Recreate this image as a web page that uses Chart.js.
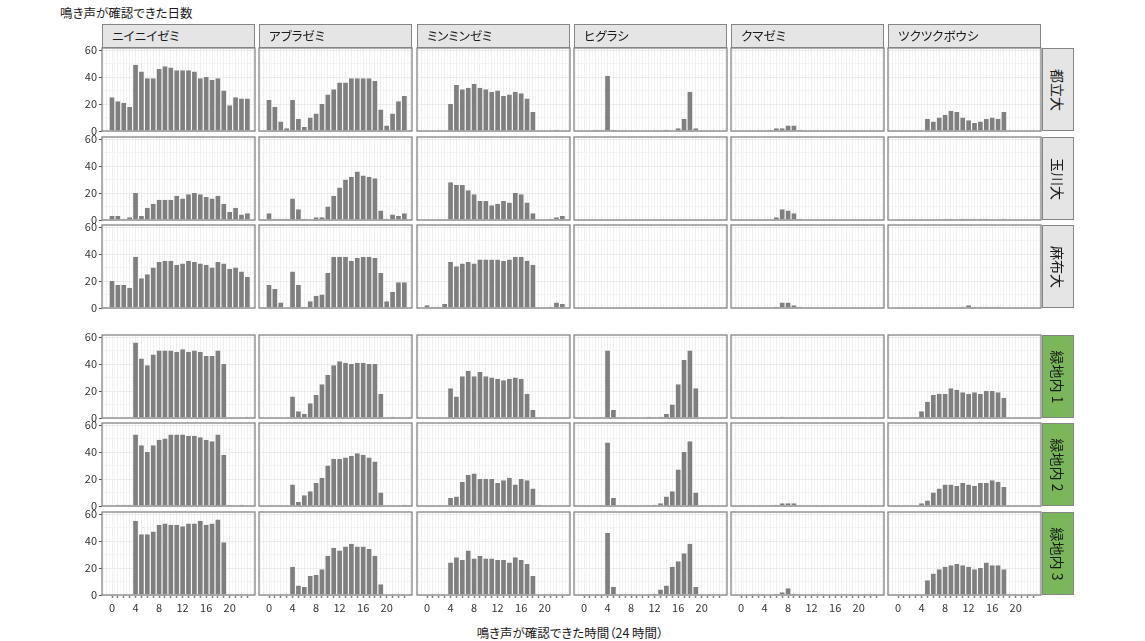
<!DOCTYPE html>
<html>
<head>
<meta charset="utf-8">
<script src="https://cdn.jsdelivr.net/npm/chart.js@4.4.1/dist/chart.umd.min.js"></script>
<style>
  html, body { margin: 0; padding: 0; }
  body { width: 1145px; height: 641px; background: #ffffff; position: relative; overflow: hidden;
         font-family: "Noto Sans CJK JP", "Noto Sans", sans-serif; color: #1a1a1a; }
  .panel { position: absolute; }
  .txt { position: absolute; white-space: nowrap; font-feature-settings: "palt"; }
  .strip-top { position: absolute; box-sizing: border-box; border: 1px solid #858585; background: #e5e5e5;
               font-size: 12.5px; line-height: 22px; padding-left: 9px; font-feature-settings: "palt"; white-space: nowrap; }
  .strip-right { position: absolute; box-sizing: border-box; border: 1px solid #858585; }
  .strip-right span { position: absolute; left: 50%; top: 50%; transform: translate(-50%, -50%) rotate(90deg);
                      font-size: 14px; white-space: nowrap; font-feature-settings: "palt"; }
</style>
</head>
<body>
<div class="txt" id="ytitle" style="left:60px; top:3px; font-size:12.5px;">鳴き声が確認できた日数</div>
<div class="txt" id="xtitle" style="left:570px; top:623px; font-size:12.5px; transform:translateX(-50%);">鳴き声が確認できた時間（24 時間）</div>
<script>
// ---------- data ----------
const hours = [0,1,2,3,4,5,6,7,8,9,10,11,12,13,14,15,16,17,18,19,20,21,22,23];
const speciesNames = ["ニイニイゼミ","アブラゼミ","ミンミンゼミ","ヒグラシ","クマゼミ","ツクツクボウシ"];
const siteNames = ["都立大","玉川大","麻布大","緑地内 1","緑地内 2","緑地内 3"];
const xTickLabels = [0,4,8,12,16,20];
const yTickLabels = [0,20,40,60];

// each site: one array per species (order = speciesNames), values per hour 0..23
const toritsu = [
  [25,22,21,18,49,44,39,39,46,48,47,45,45,45,44,39,40,38,39,30,19,25,24,24],
  [23,18,7,2,23,9,3,10,13,20,27,31,36,36,39,39,39,39,37,16,4,13,22,26],
  [0,0,0,0,20,34,31,32,35,32,31,29,30,26,27,29,28,24,14,0,0,0,1,0],
  [0,0,1,1,41,1,0,0,0,0,0,0,0,0,1,0,2,9,29,2,0,0,0,0],
  [0,0,0,0,0,1,2,2,4,4,1,0,0,0,0,0,0,0,0,0,0,0,0,0],
  [0,0,0,0,0,9,7,10,12,15,14,10,8,6,7,9,10,9,14,0,0,0,0,0]
];
const tamagawa = [
  [3,3,1,2,20,3,9,12,15,15,15,18,16,19,20,19,17,16,18,12,6,9,4,5],
  [5,1,1,1,16,8,1,0,2,2,10,18,24,30,32,36,33,32,31,7,1,4,3,5],
  [0,0,0,0,28,26,26,22,19,14,14,11,12,14,13,20,19,13,5,0,0,1,2,3],
  [0,0,0,0,0,0,0,0,0,0,0,0,0,0,0,0,0,0,0,0,0,0,0,0],
  [0,0,0,0,0,0,2,8,7,5,1,0,0,0,0,0,0,0,0,0,0,0,0,0],
  [0,0,0,0,0,0,0,0,1,1,0,1,1,1,1,1,0,0,1,0,0,0,0,0]
];
const azabu = [
  [20,17,17,15,38,22,25,30,34,35,35,32,33,35,34,33,32,30,34,33,29,30,27,23],
  [17,14,4,0,27,17,1,5,9,10,26,38,38,38,35,37,38,38,37,26,5,12,19,19],
  [2,1,1,3,34,31,33,34,33,36,36,36,36,35,36,38,38,35,32,0,0,1,4,3],
  [0,0,0,0,0,0,0,0,0,0,0,0,0,0,0,0,0,0,0,0,0,0,0,0],
  [0,0,0,0,0,0,1,4,4,2,1,0,0,0,0,0,0,0,0,0,0,0,0,0],
  [0,0,0,0,0,0,0,0,0,0,0,1,2,1,1,1,1,1,0,0,0,0,0,0]
];
const ryokuchi1 = [
  [0,0,0,0,56,44,39,47,50,50,50,49,51,49,50,49,46,46,50,40,0,0,0,1],
  [0,0,0,0,16,5,3,11,17,25,32,39,42,41,40,41,41,40,40,18,0,1,0,0],
  [0,0,0,0,22,16,31,35,31,34,31,30,29,28,29,30,29,18,6,0,0,0,0,0],
  [0,0,0,0,50,6,0,0,0,0,0,1,0,1,3,10,25,43,50,22,0,0,0,0],
  [0,0,0,0,0,0,0,1,0,0,0,0,0,0,0,0,0,0,0,0,0,0,0,0],
  [0,0,0,0,5,12,17,18,18,22,21,19,18,19,18,20,20,19,15,0,0,0,0,0]
];
const ryokuchi2 = [
  [0,1,1,1,53,45,40,45,49,50,53,53,53,52,52,51,49,48,53,38,1,0,1,0],
  [0,0,0,0,16,3,8,11,17,21,30,35,35,36,37,39,38,36,33,10,0,0,0,1],
  [0,0,0,0,6,7,18,23,24,20,20,20,17,19,21,16,20,19,13,1,0,0,0,0],
  [0,0,0,0,47,6,0,0,0,0,0,0,1,2,7,11,27,40,48,10,0,0,0,0],
  [0,0,0,0,0,0,1,2,2,2,0,0,0,0,0,0,0,0,0,0,0,0,0,0],
  [0,0,0,0,2,4,10,13,16,16,15,17,16,15,17,17,19,18,14,0,0,0,0,0]
];
const ryokuchi3 = [
  [0,0,0,0,55,45,45,47,52,53,52,52,51,53,53,55,52,53,56,39,0,0,0,0],
  [0,0,0,0,21,7,6,14,15,19,29,35,33,36,38,36,36,34,29,8,0,0,0,0],
  [0,0,0,0,24,28,26,33,27,29,27,27,26,26,24,28,26,23,14,0,0,0,0,0],
  [0,0,0,0,46,6,0,0,0,0,0,0,1,4,7,21,25,31,38,6,0,0,0,0],
  [0,0,0,0,0,0,1,2,5,1,0,0,0,0,0,0,0,0,0,0,0,0,0,0],
  [0,0,0,0,0,11,16,19,21,22,23,22,21,19,20,24,22,22,19,0,0,0,0,0]
];
const siteData = [toritsu, tamagawa, azabu, ryokuchi1, ryokuchi2, ryokuchi3];

// ---------- layout / style ----------
const COL_LEFT = [102, 259, 417, 574, 731, 888];
const ROW_TOP = [48, 137, 225, 335, 423, 512];
const PANEL_W = 153, PANEL_H = 83;
const PAD = 10;
const Y_AXIS_W = 34, X_AXIS_H = 24;
const X_MIN = -1.7, X_MAX = 24.3, Y_MIN = 0, Y_MAX = 61.5;
const STRIP_FILL = ['#e5e5e5','#e5e5e5','#e5e5e5','#7ab65a','#7ab65a','#7ab65a'];
const FONT = '"Noto Sans CJK JP", "Noto Sans", sans-serif';

// grid positions (every half hour across the panel)
const xGrid = [];
for (let v = -1.5; v <= 24.01; v += 0.5) xGrid.push(Math.round(v * 2) / 2);
const yGrid = [0, 10, 20, 30, 40, 50, 60];

const panelDeco = {
  id: 'panelDeco',
  beforeDraw(chart) {
    const a = chart.chartArea, ctx = chart.ctx;
    ctx.save();
    ctx.fillStyle = '#ffffff';
    ctx.fillRect(a.left, a.top, a.right - a.left, a.bottom - a.top);
    ctx.restore();
  },
  afterDraw(chart) {
    const a = chart.chartArea, ctx = chart.ctx;
    ctx.save();
    ctx.strokeStyle = '#858585';
    ctx.lineWidth = 1.3;
    ctx.strokeRect(a.left, a.top, a.right - a.left, a.bottom - a.top);
    ctx.restore();
  }
};

function makePanel(r, c) {
  const values = siteData[r][c];
  const isLeft = c === 0, isBottom = r === 5;
  const yw = isLeft ? Y_AXIS_W : 0;
  const xh = isBottom ? X_AXIS_H : 0;
  const w = PAD * 2 + yw + PANEL_W;
  const h = PAD * 2 + xh + PANEL_H;
  const div = document.createElement('div');
  div.className = 'panel';
  div.style.left = (COL_LEFT[c] - PAD - yw) + 'px';
  div.style.top = (ROW_TOP[r] - PAD) + 'px';
  div.style.width = w + 'px';
  div.style.height = h + 'px';
  const cv = document.createElement('canvas');
  cv.width = w; cv.height = h;
  cv.style.width = w + 'px'; cv.style.height = h + 'px';
  div.appendChild(cv);
  document.body.appendChild(div);

  new Chart(cv, {
    type: 'bar',
    data: {
      datasets: [{
        data: hours.map((hr, i) => ({ x: hr, y: values[i] })),
        backgroundColor: '#7f7f7f',
        borderColor: 'rgba(255,255,255,0.85)',
        borderWidth: { left: 0.6, right: 0.6, top: 0, bottom: 0 },
        borderSkipped: false,
        // the bar ruler uses the half-hour grid spacing, so 2 = one full hour
        barPercentage: 2,
        categoryPercentage: 1
      }]
    },
    options: {
      responsive: false,
      animation: false,
      devicePixelRatio: 1,
      layout: { padding: { left: PAD, right: PAD, top: PAD, bottom: PAD } },
      plugins: { legend: { display: false }, tooltip: { enabled: false } },
      scales: {
        x: {
          type: 'linear', min: X_MIN, max: X_MAX, offset: false,
          afterBuildTicks: s => { s.ticks = xGrid.map(v => ({ value: v })); },
          afterFit: s => { s.height = xh; s.paddingLeft = 0; s.paddingRight = 0; s.paddingTop = 0; s.paddingBottom = 0; },
          grid: {
            offset: false,
            color: ctx => (ctx.tick && Number.isInteger(ctx.tick.value)) ? '#eeeeee' : '#f5f5f5',
            lineWidth: 1,
            drawTicks: isBottom,
            tickLength: 3,
            tickWidth: 1.5,
            tickColor: ctx => (ctx.tick && Number.isInteger(ctx.tick.value) && ctx.tick.value >= 0 && ctx.tick.value <= 23) ? '#7f7f7f' : 'rgba(0,0,0,0)'
          },
          border: { display: false },
          ticks: {
            display: isBottom, autoSkip: false, maxRotation: 0, minRotation: 0, padding: 3,
            color: '#333333', font: { family: FONT, size: 11 },
            callback: v => xTickLabels.includes(v) ? String(v) : ''
          }
        },
        y: {
          type: 'linear', min: Y_MIN, max: Y_MAX,
          afterBuildTicks: s => { s.ticks = yGrid.map(v => ({ value: v })); },
          afterFit: s => { s.width = yw; s.paddingLeft = 0; s.paddingRight = 0; s.paddingTop = 0; s.paddingBottom = 0; },
          grid: {
            color: ctx => (ctx.tick && yTickLabels.includes(ctx.tick.value)) ? '#ebebeb' : '#f3f3f3',
            lineWidth: 1,
            drawTicks: isLeft,
            tickLength: 3,
            tickColor: ctx => (ctx.tick && yTickLabels.includes(ctx.tick.value)) ? '#555555' : 'rgba(0,0,0,0)'
          },
          border: { display: false },
          ticks: {
            display: isLeft, autoSkip: false, padding: 2,
            color: '#333333', font: { family: FONT, size: 11 },
            callback: v => yTickLabels.includes(v) ? String(v) : ''
          }
        }
      }
    },
    plugins: [panelDeco]
  });
}

for (let r = 0; r < 6; r++) for (let c = 0; c < 6; c++) makePanel(r, c);

// column strips (top)
speciesNames.forEach((name, c) => {
  const d = document.createElement('div');
  d.className = 'strip-top';
  d.style.left = COL_LEFT[c] + 'px';
  d.style.top = '24px';
  d.style.width = PANEL_W + 'px';
  d.style.height = '24px';
  d.textContent = name;
  document.body.appendChild(d);
});
// row strips (right)
siteNames.forEach((name, r) => {
  const d = document.createElement('div');
  d.className = 'strip-right';
  d.style.left = '1042px';
  d.style.top = ROW_TOP[r] + 'px';
  d.style.width = '32px';
  d.style.height = PANEL_H + 'px';
  d.style.background = STRIP_FILL[r];
  const s = document.createElement('span');
  s.textContent = name;
  d.appendChild(s);
  document.body.appendChild(d);
});
</script>
</body>
</html>
